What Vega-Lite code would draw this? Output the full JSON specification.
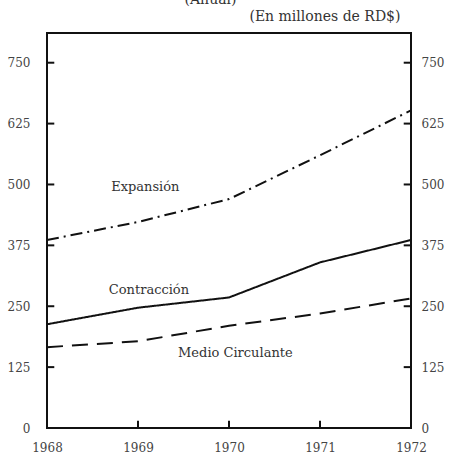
{
  "$schema": "https://vega.github.io/schema/vega-lite/v6.json",
  "width": 364,
  "height": 395,
  "autosize": {"type": "none"},
  "padding": {"left": 47, "top": 33, "right": 41, "bottom": 28},
  "background": "white",
  "config": {
    "view": {"stroke": "#111", "strokeWidth": 2},
    "axis": {
      "labelFont": "DejaVu Serif",
      "labelFontSize": 12,
      "labelColor": "#444",
      "domain": false,
      "grid": false,
      "ticks": false,
      "titleFont": "DejaVu Serif",
      "titleFontWeight": "normal",
      "titleFontSize": 14,
      "titleColor": "#333"
    }
  },
  "datasets": {
    "series": [
      {"anio": 1968, "serie": "Expansión", "valor": 386},
      {"anio": 1969, "serie": "Expansión", "valor": 423},
      {"anio": 1970, "serie": "Expansión", "valor": 470},
      {"anio": 1971, "serie": "Expansión", "valor": 560},
      {"anio": 1972, "serie": "Expansión", "valor": 652},
      {"anio": 1968, "serie": "Contracción", "valor": 213},
      {"anio": 1969, "serie": "Contracción", "valor": 247},
      {"anio": 1970, "serie": "Contracción", "valor": 268},
      {"anio": 1971, "serie": "Contracción", "valor": 340},
      {"anio": 1972, "serie": "Contracción", "valor": 386},
      {"anio": 1968, "serie": "Medio Circulante", "valor": 166},
      {"anio": 1969, "serie": "Medio Circulante", "valor": 178},
      {"anio": 1970, "serie": "Medio Circulante", "valor": 210},
      {"anio": 1971, "serie": "Medio Circulante", "valor": 235},
      {"anio": 1972, "serie": "Medio Circulante", "valor": 266}
    ],
    "etiquetas": [
      {"x": 1969.08, "y": 495, "texto": "Expansión"},
      {"x": 1969.12, "y": 283, "texto": "Contracción"},
      {"x": 1970.07, "y": 154, "texto": "Medio Circulante"}
    ],
    "marcasY": [
      {"v": 125}, {"v": 250}, {"v": 375}, {"v": 500}, {"v": 625}, {"v": 750}
    ],
    "marcasX": [
      {"anio": 1969}, {"anio": 1970}, {"anio": 1971}
    ]
  },
  "layer": [
    {
      "data": {"name": "series"},
      "mark": {"type": "line", "strokeWidth": 2, "color": "#111"},
      "encoding": {
        "x": {
          "field": "anio",
          "type": "quantitative",
          "scale": {"domain": [1968, 1972], "nice": false, "zero": false},
          "axis": {
            "values": [1968, 1969, 1970, 1971, 1972],
            "format": "d",
            "title": null,
            "labelPadding": 14,
            "labelFlush": false
          }
        },
        "y": {
          "field": "valor",
          "type": "quantitative",
          "scale": {"domain": [0, 811], "nice": false},
          "axis": {
            "orient": "left",
            "values": [0, 125, 250, 375, 500, 625, 750],
            "labelPadding": 17,
            "title": "(Anual)",
            "titleAngle": 0,
            "titleAlign": "center",
            "titleBaseline": "alphabetic",
            "titleX": 163,
            "titleY": -30
          }
        },
        "strokeDash": {
          "field": "serie",
          "type": "nominal",
          "scale": {
            "domain": ["Expansión", "Contracción", "Medio Circulante"],
            "range": [[12, 5, 2, 5], [1, 0], [16, 9]]
          },
          "legend": null
        },
        "detail": {"field": "serie"}
      }
    },
    {
      "data": {"name": "marcasY"},
      "mark": {"type": "rule", "color": "#111", "strokeWidth": 2},
      "encoding": {
        "y": {"field": "v", "type": "quantitative", "axis": null},
        "x": {"datum": 1968},
        "x2": {"datum": 1968.08}
      }
    },
    {
      "data": {"name": "marcasY"},
      "mark": {"type": "rule", "color": "#111", "strokeWidth": 2},
      "encoding": {
        "y": {"field": "v", "type": "quantitative", "axis": null},
        "x": {"datum": 1971.92},
        "x2": {"datum": 1972}
      }
    },
    {
      "data": {"name": "marcasX"},
      "mark": {"type": "rule", "color": "#111", "strokeWidth": 2},
      "encoding": {
        "x": {"field": "anio", "type": "quantitative"},
        "y": {"datum": 0, "axis": null},
        "y2": {"datum": 15}
      }
    },
    {
      "data": {"name": "etiquetas"},
      "mark": {"type": "text", "font": "DejaVu Serif", "fontSize": 13, "color": "#333", "align": "center", "baseline": "middle"},
      "encoding": {
        "x": {"field": "x", "type": "quantitative"},
        "y": {
          "field": "y",
          "type": "quantitative",
          "axis": {
            "orient": "right",
            "values": [0, 125, 250, 375, 500, 625, 750],
            "labelPadding": 10,
            "title": "(En millones de RD$)",
            "titleAngle": 0,
            "titleAlign": "right",
            "titleBaseline": "middle",
            "titleX": -11,
            "titleY": -17
          }
        },
        "text": {"field": "texto"}
      }
    }
  ],
  "resolve": {"axis": {"y": "independent"}}
}
